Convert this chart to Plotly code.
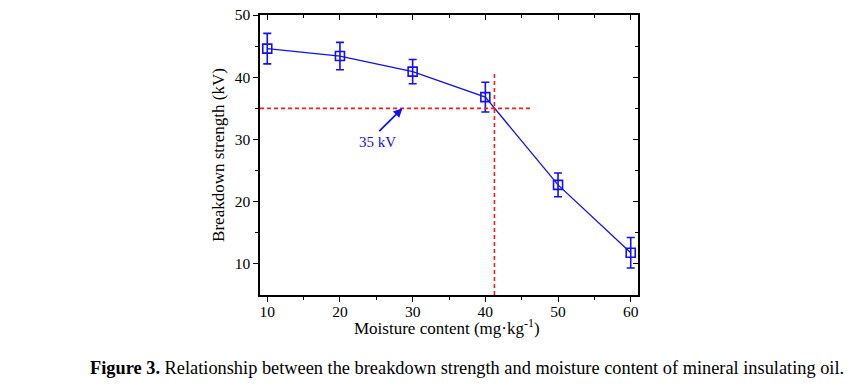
import plotly.graph_objects as go

moisture = [10, 20, 30, 40, 50, 60]
strength = [44.6, 43.4, 40.9, 36.8, 22.7, 11.8]
err = [2.45, 2.2, 1.95, 2.4, 1.9, 2.45]

ref_kv = 35
h_line_x = [9, 46.5]
v_line_x = 41.25
v_line_y = [5, 40.5]

blue = "#1010f0"
red = "#ff1a1a"
serif = "Liberation Serif"

fig = go.Figure()
fig.add_trace(go.Scatter(
    x=moisture, y=strength, mode="lines+markers",
    line=dict(color=blue, width=1.3),
    marker=dict(symbol="square-open", size=9, color=blue, line=dict(width=1.6)),
    error_y=dict(type="data", array=err, color=blue, thickness=1.6, width=4),
    showlegend=False, hoverinfo="skip",
))
fig.add_trace(go.Scatter(
    x=h_line_x, y=[ref_kv, ref_kv], mode="lines",
    line=dict(color=red, width=1.6, dash="4px,3px"), showlegend=False, hoverinfo="skip",
))
fig.add_trace(go.Scatter(
    x=[v_line_x, v_line_x], y=v_line_y, mode="lines",
    line=dict(color=red, width=1.6, dash="4px,3px"), showlegend=False, hoverinfo="skip",
))
# invisible trace for mirrored inside-tick axes
fig.add_trace(go.Scatter(
    x=moisture, y=strength, xaxis="x2", yaxis="y2", mode="lines",
    line=dict(width=0), showlegend=False, hoverinfo="skip",
))

fig.add_annotation(
    x=28.6, y=ref_kv, ax=25.2, ay=31.1, xref="x", yref="y", axref="x", ayref="y",
    showarrow=True, arrowhead=2, arrowsize=1, arrowwidth=1.8, arrowcolor=blue, text="",
)
fig.add_annotation(
    x=25.2, y=29.6, xref="x", yref="y", text="35 kV", showarrow=False,
    font=dict(family=serif, size=15, color=blue),
)
fig.add_annotation(
    x=0.495, y=-0.114, xref="paper", yref="paper", xanchor="center", yanchor="middle",
    text="Moisture content (mg·kg<sup>-1</sup>)", showarrow=False,
    font=dict(family=serif, size=17, color="black"),
)
fig.add_annotation(
    x=-0.4550, y=-0.26, xref="paper", yref="paper", xanchor="left", yanchor="middle",
    text="<b>Figure 3.</b> Relationship between the breakdown strength and moisture content of mineral insulating oil.",
    showarrow=False, font=dict(family=serif, size=18.35, color="black"),
)

axis_common = dict(showgrid=False, zeroline=False, showline=True, linecolor="black",
                   linewidth=1.5, ticklen=5, tickwidth=1.2, tickcolor="black",
                   automargin=False, ticklabeloverflow="allow",
                   tickfont=dict(family=serif, size=15.5, color="black"))
axis_mirror = {k: v for k, v in axis_common.items() if k not in ("tickfont", "ticklabeloverflow")}

fig.update_layout(
    width=857, height=385,
    margin=dict(l=260, r=219, t=15, b=90),
    paper_bgcolor="white", plot_bgcolor="white",
    hovermode=False,
    xaxis=dict(range=[9, 61], tickvals=[10, 20, 30, 40, 50, 60], ticks="outside",
               ticklabelstandoff=-3,
               minor=dict(tickvals=[15, 25, 35, 45, 55], ticks="outside", ticklen=3,
                          tickwidth=1.2, tickcolor="black"),
               **axis_common),
    yaxis=dict(range=[5, 50], tickvals=[10, 20, 30, 40, 50], ticks="outside",
               minor=dict(tickvals=[15, 25, 35, 45], ticks="outside", ticklen=3,
                          tickwidth=1.2, tickcolor="black"),
               title=dict(text="Breakdown strength (kV)",
                          font=dict(family=serif, size=17, color="black"), standoff=6),
               **axis_common),
    xaxis2=dict(range=[9, 61], overlaying="x", side="top", showticklabels=False,
                tickvals=[10, 20, 30, 40, 50, 60], ticks="inside",
                minor=dict(tickvals=[15, 25, 35, 45, 55], ticks="inside", ticklen=3,
                           tickwidth=1.2, tickcolor="black"),
                **axis_mirror),
    yaxis2=dict(range=[5, 50], overlaying="y", side="right", showticklabels=False,
                tickvals=[10, 20, 30, 40, 50], ticks="inside",
                minor=dict(tickvals=[15, 25, 35, 45], ticks="inside", ticklen=3,
                           tickwidth=1.2, tickcolor="black"),
                **axis_mirror),
)

fig.write_html("out.html", config={"displayModeBar": False},
               post_script="document.body.style.margin='0';document.body.style.overflow='hidden';")
